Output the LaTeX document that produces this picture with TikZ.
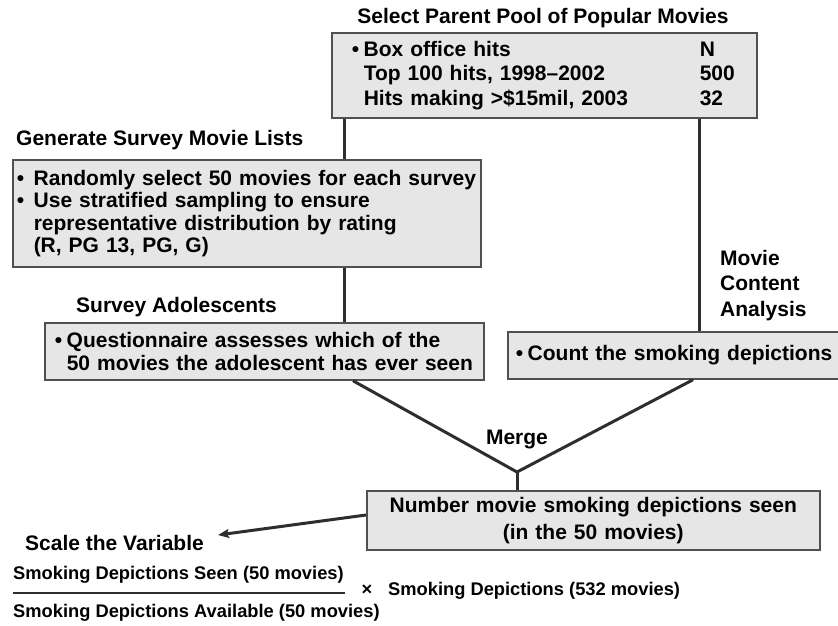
\documentclass[tikz,border=0pt]{standalone}
\usepackage{fontspec}
\setmainfont{Liberation Sans}
\usetikzlibrary{arrows.meta}
\definecolor{boxfill}{HTML}{E6E6E6}
\definecolor{boxline}{HTML}{505050}
\definecolor{conn}{HTML}{2E2E2E}
\tikzset{
  box/.style={draw=boxline, line width=1.5pt, fill=boxfill, inner ysep=0pt, align=left,
    font=\bfseries\fontsize{21}{22.5}\selectfont},
  lbl/.style={inner sep=0pt, font=\bfseries\fontsize{21}{25.5}\selectfont},
  small/.style={inner sep=0pt, font=\bfseries\fontsize{18.3}{22}\selectfont},
  conn/.style={draw=conn, line width=3pt},
}
\newcommand{\bl}[1]{\makebox[#1][l]{•}}
\begin{document}
\begin{tikzpicture}[x=1pt,y=-1pt]
\useasboundingbox (0,0) rectangle (838,625);
% boxes
\node[box, anchor=west, inner xsep=20pt, text width=385pt, minimum height=85pt,
  font=\bfseries\fontsize{21}{24.5}\selectfont] (pool) at (331,75.5)
  {\bl{12pt}\makebox[336pt][l]{Box office hits}N\\
   \hspace*{12pt}\makebox[336pt][l]{Top 100 hits, 1998–2002}500\\
   \hspace*{12pt}\makebox[336pt][l]{Hits making >\$15mil, 2003}32};
\node[box, anchor=west, inner xsep=4pt, text width=460pt, minimum height=107pt] (gen) at (12,213.5)
  {\mbox{\bl{17pt}Randomly select 50 movies for each survey}\\
   \mbox{\bl{17pt}Use stratified sampling to ensure}\\
   \mbox{\hspace*{17pt}representative distribution by rating}\\
   \mbox{\hspace*{17pt}(R, PG 13, PG, G)}};
\node[box, anchor=west, inner xsep=10pt, text width=419pt, minimum height=57pt,
  font=\bfseries\fontsize{21}{23}\selectfont] (survey) at (44,351.5)
  {\mbox{\bl{12pt}Questionnaire assesses which of the}\\
   \mbox{\hspace*{12pt}50 movies the adolescent has ever seen}};
\node[box, anchor=west, inner xsep=8pt, text width=317pt, minimum height=47pt] (count) at (507,355.5)
  {\mbox{\bl{12pt}Count the smoking depictions}};
\node[box, anchor=north west, inner xsep=0pt, text width=453pt, minimum height=59pt, align=center,
  font=\bfseries\fontsize{21}{27}\selectfont] (num) at (366,490)
  {Number movie smoking depictions seen\\(in the 50 movies)};
% labels
\node[lbl] (tpool) at (543,18) {Select Parent Pool of Popular Movies};
\node[lbl, anchor=west] (tgen) at (16,140) {Generate Survey Movie Lists};
\node[lbl, anchor=west] (tsurvey) at (76,307) {Survey Adolescents};
\node[lbl, anchor=west, align=left] (tcontent) at (720,285.5) {Movie\\Content\\Analysis};
\node[lbl] (tmerge) at (517,439) {Merge};
\node[lbl, anchor=west] (tscale) at (25,543) {Scale the Variable};
% formula
\node[small, anchor=west] (numer) at (13,575) {Smoking Depictions Seen (50 movies)};
\node[small, anchor=west] (denom) at (13,613) {Smoking Depictions Available (50 movies)};
\node[small] (times) at (367,590) {×};
\node[small, anchor=west] (total) at (388,591) {Smoking Depictions (532 movies)};
\coordinate (fl) at (13,593);
\coordinate (fr) at (345,593);
\draw[draw=conn, line width=2pt] (fl) -- (fr);
% connectors
\coordinate (merge) at (517,472);
\coordinate (arr) at (218,535);
\draw[conn] (pool.south -| 344.5,0) -- (gen.north -| 344.5,0);
\draw[conn] (gen.south -| 344.5,0) -- (survey.north -| 344.5,0);
\draw[conn] (pool.south -| 699,0) -- (count.north -| 699,0);
\draw[conn] (survey.south -| 353,0) -- (merge);
\draw[conn] (count.south -| 693,0) -- (merge);
\draw[conn] (merge) -- (num.north -| merge);
\draw[conn, -{Stealth[length=11pt,width=9pt,inset=2pt]}] (num.west |- 0,515) -- (arr);
\end{tikzpicture}
\end{document}
